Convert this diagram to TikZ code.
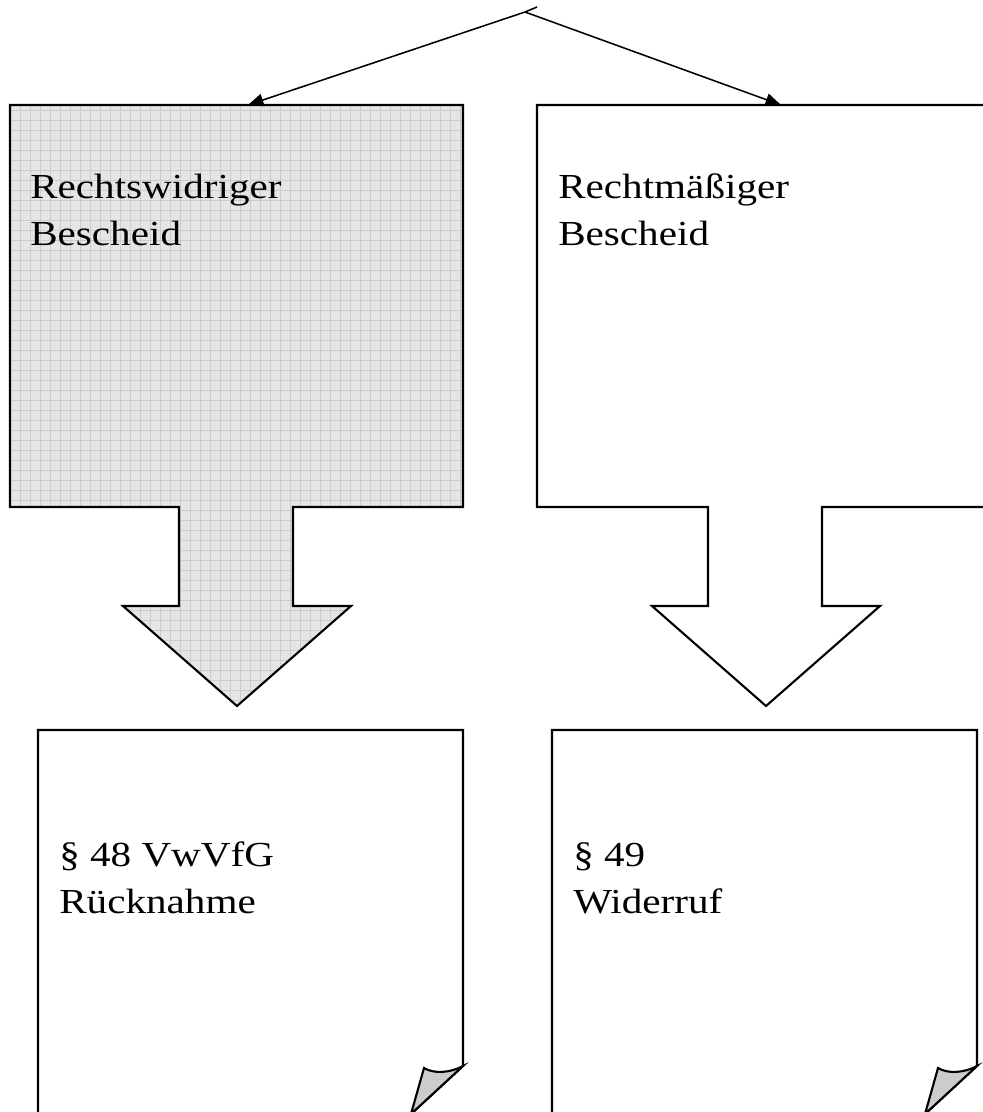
\documentclass[tikz,border=0pt]{standalone}
\usepackage{fontspec}
\setmainfont[FakeStretch=1.17]{Liberation Serif}
\usetikzlibrary{arrows.meta}

\begin{document}
\begin{tikzpicture}[x=0.025cm,y=-0.025cm,line join=miter]
  \tikzset{
    outline/.style={line width=1.5pt},
    gridded/.style={fill=black!10,path picture={
      \draw[black!20,line width=0.5pt,step=0.25cm]
        (path picture bounding box.south west) grid (path picture bounding box.north east);}},
    fold/.style={line width=1.5pt,fill=black!20},
    txt/.style={anchor=base west,align=left,inner sep=0pt,font=\fontsize{25}{33.4}\selectfont},
    link/.style={-{Triangle[length=11pt,width=9pt]},line width=1.1pt}
  }
  \useasboundingbox (0,0) rectangle (983,1112);
  \clip (0,0) rectangle (983,1112);

  % Split at the top
  \coordinate (apex) at (525,12);
  \coordinate (tick) at (537,7);
  \coordinate (wrongtop) at (248,105);
  \coordinate (righttop) at (781,105);

  % Left callout, shaded
  \draw[outline,gridded] (10,105) -- (463,105) -- (463,507) -- (293,507) -- (293,606)
    -- (351,606) -- (237,706) -- (123,606) -- (179,606) -- (179,507) -- (10,507) -- cycle;

  % Right callout
  \draw[outline,fill=white] (537,105) -- (993,105) -- (993,507) -- (822,507) -- (822,606)
    -- (880,606) -- (766,706) -- (652,606) -- (708,606) -- (708,507) -- (537,507) -- cycle;

  % Sheets with folded corner
  \draw[outline] (38,1114) -- (38,730) -- (463,730) -- (463,1066) -- (411,1114) -- cycle;
  \draw[fold] (463,1066) .. controls (450,1073) and (434,1074) .. (424,1068) -- (411,1114) -- cycle;
  \draw[outline] (552,1114) -- (552,730) -- (977,730) -- (977,1066) -- (925,1114) -- cycle;
  \draw[fold] (977,1066) .. controls (964,1073) and (948,1074) .. (938,1068) -- (925,1114) -- cycle;

  % Labels (base = last line)
  \node[txt] (wrongtxt) at (30,245) {Rechtswidriger\\Bescheid};
  \node[txt] (righttxt) at (558,245) {Rechtmäßiger\\Bescheid};
  \node[txt] (ruecktxt) at (59,913) {§ 48 VwVfG\\Rücknahme};
  \node[txt] (widertxt) at (573,913) {§ 49\\Widerruf};

  % Arrows from the top
  \draw[line width=1.1pt] (apex) -- (tick);
  \draw[link] (apex) -- (wrongtop);
  \draw[link] (apex) -- (righttop);
\end{tikzpicture}
\end{document}
